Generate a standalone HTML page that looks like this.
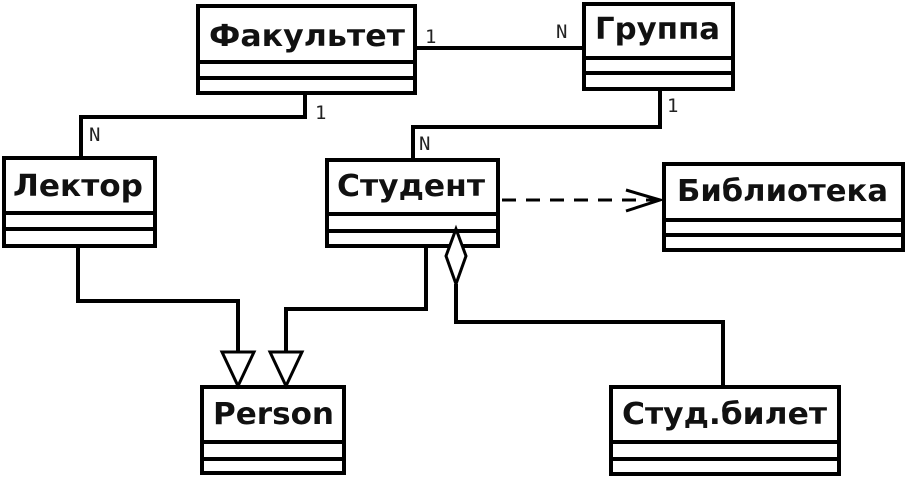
<!DOCTYPE html>
<html><head><meta charset="utf-8"><style>html,body{margin:0;padding:0;background:#fff}svg{display:block}</style></head>
<body>
<svg width="909" height="479" viewBox="0 0 909 479" xmlns="http://www.w3.org/2000/svg">
<g fill="#fff" stroke="#000" stroke-width="4">
<rect x="198" y="6" width="217" height="87"/>
<line x1="198" y1="62" x2="415" y2="62"/><line x1="198" y1="78" x2="415" y2="78"/>
<rect x="584" y="4" width="149" height="85"/>
<line x1="584" y1="58" x2="733" y2="58"/><line x1="584" y1="73" x2="733" y2="73"/>
<rect x="4" y="158" width="151" height="88"/>
<line x1="4" y1="213" x2="155" y2="213"/><line x1="4" y1="229" x2="155" y2="229"/>
<rect x="327" y="160" width="171" height="86"/>
<line x1="327" y1="214" x2="498" y2="214"/><line x1="327" y1="231" x2="498" y2="231"/>
<rect x="664" y="164" width="239" height="86"/>
<line x1="664" y1="220" x2="903" y2="220"/><line x1="664" y1="235" x2="903" y2="235"/>
<rect x="202" y="387" width="142" height="86"/>
<line x1="202" y1="442" x2="344" y2="442"/><line x1="202" y1="459" x2="344" y2="459"/>
<rect x="611" y="387" width="228" height="87"/>
<line x1="611" y1="442" x2="839" y2="442"/><line x1="611" y1="459" x2="839" y2="459"/>
</g>
<g fill="none" stroke="#000" stroke-width="4">
<polyline points="415,48 584,48"/>
<polyline points="305,93 305,117 81,117 81,158"/>
<polyline points="660,89 660,127 413,127 413,160"/>
<polyline points="78,246 78,301 238,301 238,352"/>
<polyline points="426,246 426,309 286,309 286,352"/>
<polyline points="456,284 456,322 723,322 723,387"/>
<line x1="502" y1="200" x2="660" y2="200" stroke-dasharray="14,10" stroke-width="3"/>
<polyline points="626,190 660,200 626,211" stroke-width="3"/>
</g>
<g fill="#fff" stroke="#000" stroke-width="3">
<polygon points="222,352 254,352 238,386"/>
<polygon points="270,352 302,352 286,386"/>
<polygon points="456,229 466,256 456,284 446,256"/>
</g>
<g font-family="'DejaVu Sans','Liberation Sans',sans-serif" font-weight="bold" font-size="30" fill="#111">
<text x="209" y="46" textLength="196" lengthAdjust="spacingAndGlyphs">Факультет</text>
<text x="595" y="39" textLength="125" lengthAdjust="spacingAndGlyphs">Группа</text>
<text x="13" y="196" textLength="130" lengthAdjust="spacingAndGlyphs">Лектор</text>
<text x="337" y="196" textLength="148" lengthAdjust="spacingAndGlyphs">Студент</text>
<text x="677" y="201" textLength="211" lengthAdjust="spacingAndGlyphs">Библиотека</text>
<text x="213" y="424" textLength="121" lengthAdjust="spacingAndGlyphs">Person</text>
<text x="622" y="424" textLength="205" lengthAdjust="spacingAndGlyphs">Студ.билет</text>
</g>
<g font-family="'DejaVu Sans Mono','Liberation Mono',monospace" font-size="19" fill="#222">
<text x="425" y="43">1</text>
<text x="556" y="38">N</text>
<text x="315" y="119">1</text>
<text x="89" y="141">N</text>
<text x="667" y="112">1</text>
<text x="419" y="150">N</text>
</g>
</svg>
</body></html>
